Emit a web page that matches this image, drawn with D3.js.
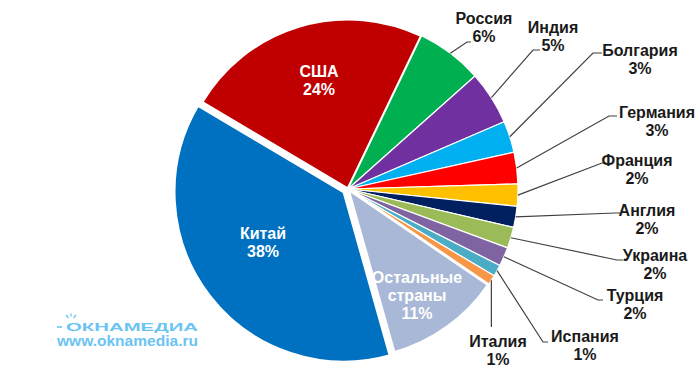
<!DOCTYPE html>
<html>
<head>
<meta charset="utf-8">
<script src="https://cdn.jsdelivr.net/npm/d3@7"></script>
<style>
  html, body { margin: 0; padding: 0; background: #fff; }
  svg { display: block; font-family: "Liberation Sans", Arial, sans-serif; }
</style>
</head>
<body>
<div id="chart"></div>
<script>
const countries = ["США", "Россия", "Индия", "Болгария", "Германия", "Франция", "Англия",
                   "Украина", "Турция", "Испания", "Италия", "Остальные страны", "Китай"];
const shares = [23.6, 6.3, 5.1, 3.0, 3.0, 2.1, 2.0, 2.0, 1.8, 1.1, 1.0, 11.1, 37.9];
const shareLabels = ["24%", "6%", "5%", "3%", "3%", "2%", "2%", "2%", "2%", "1%", "1%", "11%", "38%"];
const colors = ["#C00000", "#00B050", "#7030A0", "#00B0F0", "#FF0000", "#FFC000", "#002060",
                "#9BBB59", "#8064A2", "#4BACC6", "#F79646", "#A9B8D6", "#0070C0"];

// label layout: inside labels sit at a text position, outside ones get an elbow leader
const layout = {
    "США":              { inside: true, x: 319, y: 77 },
    "Китай":            { inside: true, x: 263, y: 239 },
    "Остальные страны": { inside: true, x: 417, y: 283 },
    "Россия":   { x: 484, y: 24, ex: 467, ey: 42, hx: 471 },
    "Индия":    { x: 553, y: 33, ex: 533, ey: 50, hx: 540 },
    "Болгария": { x: 640, y: 56, ex: 593, ey: 53, hx: 602 },
    "Германия": { x: 657, y: 118, ex: 609, ey: 116, hx: 617 },
    "Франция":  { x: 637, y: 166, ex: 602, ey: 163, hx: 606 },
    "Англия":   { x: 647, y: 216, ex: 615, ey: 213, hx: 620 },
    "Украина":  { x: 655, y: 261, ex: 617, ey: 260, hx: 623 },
    "Турция":   { x: 635, y: 301, ex: 598, ey: 300, hx: 603 },
    "Испания":  { x: 585, y: 342, ex: 543, ey: 342, hx: 548 },
    "Италия":   { x: 498, y: 347, ex: null, ey: 327, hx: null }
};

const width = 700, height = 376;
const cx = 348, cy = 189, r = 170;
const startDeg = -59.3;

const svg = d3.select("#chart").append("svg")
    .attr("width", width)
    .attr("height", height);

const data = countries.map((c, i) => ({ name: c, value: shares[i], pct: shareLabels[i], color: colors[i] }));

const pie = d3.pie()
    .sort(null)
    .value(d => d.value)
    .startAngle(startDeg * Math.PI / 180)
    .endAngle(startDeg * Math.PI / 180 + 2 * Math.PI);

const arc = d3.arc().innerRadius(0).outerRadius(r);
const arcs = pie(data);

const g = svg.append("g").attr("transform", `translate(${cx},${cy})`);

g.selectAll("path")
    .data(arcs)
    .join("path")
    .attr("d", arc)
    .attr("transform", d => {
        if (d.data.name !== "Китай") return null;
        const mid = (d.startAngle + d.endAngle) / 2;
        return `translate(${Math.sin(mid) * 5},${-Math.cos(mid) * 5})`;
    })
    .attr("fill", d => d.data.color)
    .attr("stroke", "#fff")
    .attr("stroke-width", d => d.data.value > 10 ? 3 : 1.2)
    .attr("stroke-linejoin", "round");

// leader lines
const lines = svg.append("g")
    .attr("fill", "none")
    .attr("stroke", "#404040")
    .attr("stroke-width", 1.2);

arcs.forEach(d => {
    const L = layout[d.data.name];
    if (L.inside) return;
    const mid = (d.startAngle + d.endAngle) / 2;
    const sx = cx + Math.sin(mid) * r, sy = cy - Math.cos(mid) * r;
    let pts;
    if (L.ex === null) pts = [[sx, sy], [sx, L.ey]];
    else pts = [[sx, sy], [L.ex, L.ey], [L.hx, L.ey]];
    lines.append("path").attr("d", d3.line()(pts));
});

// labels
const labels = svg.append("g")
    .attr("font-size", 16)
    .attr("font-weight", "bold")
    .attr("text-anchor", "middle");

arcs.forEach(d => {
    const L = layout[d.data.name];
    const words = d.data.name === "Остальные страны" ? ["Остальные", "страны"] : [d.data.name];
    const rows = words.concat([d.data.pct]);
    const t = labels.append("text")
        .attr("fill", L.inside ? "#fff" : "#1a1a1a");
    rows.forEach((w, i) => {
        t.append("tspan")
            .attr("x", L.x)
            .attr("y", L.y + i * 18)
            .text(w);
    });
});

// watermark
const logo = svg.append("g").attr("fill", "#6CC4F2").attr("font-weight", "bold");
logo.append("text")
    .attr("x", 66).attr("y", 331)
    .attr("font-size", 11)
    .attr("textLength", 132)
    .attr("lengthAdjust", "spacingAndGlyphs")
    .text("ОКНАМЕДИА");
logo.append("line")
    .attr("x1", 57).attr("x2", 62).attr("y1", 327).attr("y2", 327)
    .attr("stroke", "#6CC4F2").attr("stroke-width", 1.6);
[[-5, 0], [0, -1.5], [5, 0]].forEach(([dx, dy]) => {
    logo.append("line")
        .attr("x1", 71 + dx * 0.5).attr("y1", 318 + dy)
        .attr("x2", 71 + dx).attr("y2", 315 + dy)
        .attr("stroke", "#6CC4F2").attr("stroke-width", 1.3);
});
logo.append("text")
    .attr("x", 57).attr("y", 346)
    .attr("font-size", 15)
    .attr("textLength", 141)
    .attr("lengthAdjust", "spacingAndGlyphs")
    .text("www.oknamedia.ru");
</script>
</body>
</html>
